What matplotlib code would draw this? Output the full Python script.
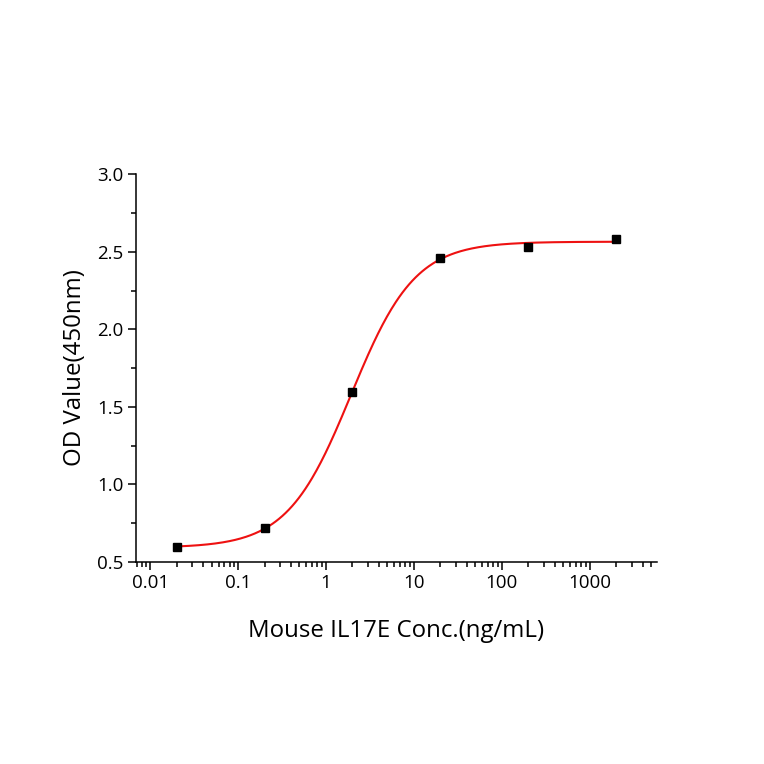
import numpy as np
import matplotlib
matplotlib.use("Agg")
import matplotlib.pyplot as plt
from matplotlib.ticker import LogLocator, FixedLocator, NullFormatter, FuncFormatter

plt.rcParams['font.family'] = ['Open Sans', 'DejaVu Sans']

# Data
conc = [0.02, 0.2, 2, 20, 200, 2000]
od = [0.595, 0.718, 1.596, 2.46, 2.53, 2.585]
x_label = "Mouse IL17E Conc.(ng/mL)"
y_label = "OD Value(450nm)"
y_ticks = [0.5, 1.0, 1.5, 2.0, 2.5, 3.0]
x_ticks = [0.01, 0.1, 1, 10, 100, 1000]


def fourpl(x, p):
    a, d, c, b = p
    return d + (a - d) / (1 + (x / c) ** b)


def fit4pl(x, y, p0, iters=200):
    x = np.asarray(x, float)
    y = np.asarray(y, float)
    p = np.array(p0, float)
    lam = 1e-3
    def res(p):
        return y - fourpl(x, p)
    r = res(p)
    for _ in range(iters):
        J = np.zeros((len(x), 4))
        for k in range(4):
            dp = np.zeros(4)
            h = 1e-6 * max(abs(p[k]), 1e-3)
            dp[k] = h
            J[:, k] = (fourpl(x, p + dp) - fourpl(x, p - dp)) / (2 * h)
        A = J.T @ J
        g = J.T @ r
        step = np.linalg.solve(A + lam * np.diag(np.diag(A)), g)
        pn = p + step
        if pn[2] <= 0:
            lam *= 10
            continue
        rn = res(pn)
        if rn @ rn < r @ r:
            p, r = pn, rn
            lam *= 0.3
        else:
            lam *= 10
    return p


params = fit4pl(conc, od, [2.57, 0.58, 2.0, 1.2])
xs = np.logspace(np.log10(conc[0]), np.log10(conc[-1]), 400)
ys = fourpl(xs, params)

fig = plt.figure(figsize=(7.64, 7.64), dpi=100)
ax = fig.add_axes([0.178, 0.2647, 0.682, 0.5072])
ax.plot(xs, ys, color='#ee1111', lw=1.5, zorder=2)
ax.plot(conc, od, 's', color='black', ms=6.0, zorder=3)

ax.set_xscale('log')
ax.set_xlim(0.0069, 5850)
ax.set_ylim(0.5, 3.0)
ax.spines['top'].set_visible(False)
ax.spines['right'].set_visible(False)
for s in ['left', 'bottom']:
    ax.spines[s].set_linewidth(1.1)

ax.xaxis.set_major_locator(FixedLocator(x_ticks))
ax.xaxis.set_major_formatter(FuncFormatter(lambda v, pos: ('%g' % v)))
ax.xaxis.set_minor_locator(LogLocator(base=10, subs=np.arange(2, 10), numticks=20))
ax.xaxis.set_minor_formatter(NullFormatter())
ax.yaxis.set_major_locator(FixedLocator(y_ticks))
ax.yaxis.set_major_formatter(FuncFormatter(lambda v, pos: '%.1f' % v))
ax.yaxis.set_minor_locator(FixedLocator(np.arange(0.75, 3.0, 0.5)))

ax.tick_params(which='major', direction='out', length=6, width=1.1, labelsize=13.5, pad=3)
ax.tick_params(which='minor', direction='out', length=3.5, width=1.1)

ax.set_xlabel(x_label, fontsize=17.3, labelpad=19)
ax.set_ylabel(y_label, fontsize=17.3, labelpad=7)

fig.savefig('out.png', dpi=100, facecolor='white')
